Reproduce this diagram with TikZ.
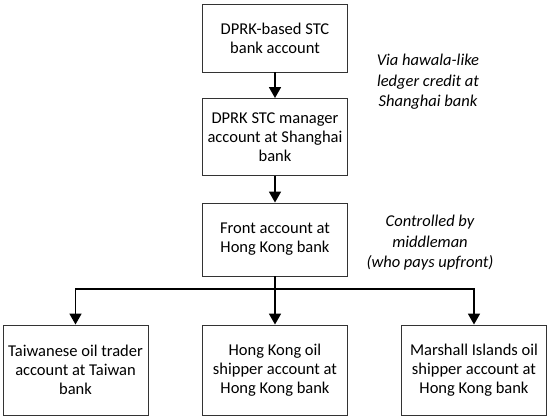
\documentclass[tikz,border=0pt]{standalone}
\usepackage{fontspec}
\setmainfont{Carlito}
\usetikzlibrary{arrows.meta,positioning}
\begin{document}
\begin{tikzpicture}[x=1pt,y=-1pt,
  box/.style={draw=black!80,line width=0.9pt,minimum width=145pt,align=center,font=\fontsize{16.5}{19}\selectfont,inner sep=0pt},
  note/.style={align=center,font=\fontsize{16.5}{20.5}\selectfont\itshape},
  conn/.style={line width=1.7pt,-{Triangle[width=12pt,length=11pt]}}]
\useasboundingbox (0,0) rectangle (550,420);
\node[box,minimum height=68pt] (b1) at (275,38) {DPRK-based STC\\bank account};
\node[box,minimum height=77pt] (b2) at (275,137) {DPRK STC manager\\account at Shanghai\\bank};
\node[box,minimum height=73pt] (b3) at (275,239.5) {Front account at\\Hong Kong bank};
\node[box,minimum height=90pt] (l) at (75.5,370) {Taiwanese oil trader\\account at Taiwan\\bank};
\node[box,minimum height=90pt] (m) at (275,370) {Hong Kong oil\\shipper account at\\Hong Kong bank};
\node[box,minimum height=90pt] (r) at (474,370) {Marshall Islands oil\\shipper account at\\Hong Kong bank};
\node[note] (n1) at (428,82) {Via hawala-like\\ledger credit at\\Shanghai bank};
\node[note] (n2) at (430,243) {Controlled by\\middleman\\(who pays upfront)};
\coordinate (fork) at (275,289);
\draw[conn] (b1) -- (b2);
\draw[conn] (b2) -- (b3);
\draw[conn] (b3.south) -- (m.north);
\draw[conn] (fork) -| (l.north);
\draw[conn] (fork) -| (r.north);
\end{tikzpicture}
\end{document}
